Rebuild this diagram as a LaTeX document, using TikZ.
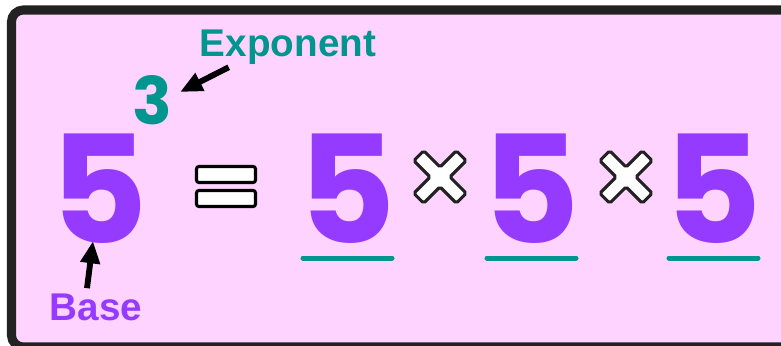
\documentclass[tikz,border=0pt]{standalone}
\usepackage{fontspec}
\usetikzlibrary{arrows.meta,calc}
\setmainfont{Liberation Sans}
\newfontfamily\digitfont{Poppins}
\definecolor{PowPink}{HTML}{FFD3FF}
\definecolor{PowPurple}{HTML}{953AFF}
\definecolor{PowTeal}{HTML}{00958F}
\definecolor{PowFrame}{HTML}{222222}

\begin{document}
\begin{tikzpicture}[x=0.03cm, y=-0.03cm,
        bigdigit/.style={inner sep=0, text=PowPurple, font=\digitfont\bfseries\fontsize{128}{128}\selectfont},
        label/.style={inner sep=0, font=\bfseries\fontsize{33}{33}\selectfont},
        ptr/.style={line width=5pt, -{Triangle[length=19pt, width=16pt]}},
        eqbar/.style={draw=black, fill=white, line width=2.6pt, rounded corners=2pt, minimum width=1.77cm, minimum height=0.48cm, inner sep=0}]
        \useasboundingbox (0,0) rectangle (781,346);
        \clip (0,0) rectangle (781,346);
        \draw[PowFrame, fill=PowPink, line width=7.7pt, rounded corners=10pt] (11.5,10) rectangle (820,347);
        % base and exponent
        \node[bigdigit] (b5) at (99,189) {5};
        \node[inner sep=0, text=PowTeal, font=\digitfont\bfseries\fontsize{56}{56}\selectfont] (three) at (152,100) {3};
        \node[label, text=PowTeal, anchor=base] (expo) at (288,57) {Exponent};
        \node[label, text=PowPurple, anchor=base] (base) at (96,321) {Base};
        \draw[ptr] ($(expo.south west)+(29,2)$) -- ($(three.east)+(8,-8)$);
        \draw[ptr] ($(base.north)+(-9,-6)$) -- ($(b5.south)+(-6,-3)$);
        % equals sign
        \node[eqbar] (eqa) at (226,174.5) {};
        \node[eqbar] (eqb) at (226,198.5) {};
        % the three factors
        \foreach \x/\n in {347/f1, 531/f2, 713/f3} {
            \node[bigdigit] (\n) at (\x,189) {5};
            \draw[PowTeal, line width=4.3pt, line cap=round] ($(\n.south)+(-44,14)$) -- ($(\n.south)+(45,14)$);
        }
        \foreach \x in {440, 626}
            \draw[PowFrame, fill=white, line width=2.6pt, rounded corners=1.5pt, shift={(\x,177)}, rotate=45]
                (-7,-7) -- (-7,-30) -- (7,-30) -- (7,-7) -- (30,-7) -- (30,7) -- (7,7) -- (7,30)
                -- (-7,30) -- (-7,7) -- (-30,7) -- (-30,-7) -- cycle;
    \end{tikzpicture}
\end{document}
